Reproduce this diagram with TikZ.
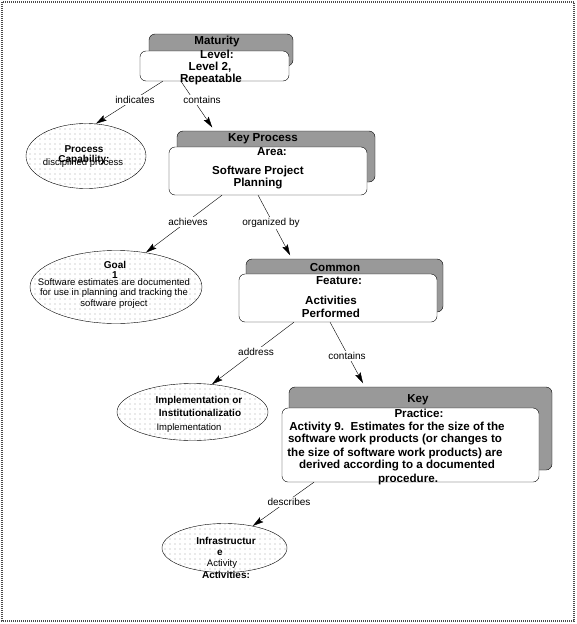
\documentclass[tikz,border=0pt]{standalone}
\usepackage{fontspec}
\setmainfont{Liberation Sans}
\usepackage{tikz}
\usetikzlibrary{arrows.meta,calc,patterns.meta,shapes.geometric}

\tikzset{
  shadowbox/.style={draw, rounded corners=6pt, fill=black!40, inner sep=0pt},
  frontbox/.style={draw, rounded corners=6pt, fill=white, inner sep=0pt},
  concept/.style={draw, ellipse, inner sep=0pt, pattern={Dots[distance=5pt,radius=0.45pt]}},
  boxtxt/.style={font=\fontsize{11.6}{13}\selectfont\bfseries, inner sep=0pt},
  elltitle/.style={font=\fontsize{10}{12}\selectfont\bfseries, inner sep=0pt},
  elltxt/.style={font=\fontsize{9.5}{11}\selectfont, inner sep=0pt},
  linklbl/.style={font=\fontsize{10}{12}\selectfont, fill=white, inner sep=1pt},
  link/.style={-{Stealth[length=11pt,width=6pt,inset=2pt]}},
  frame/.style={line width=2pt, black!70, dash pattern=on 1pt off 1pt}
}

\begin{document}
\begin{tikzpicture}[x=1pt, y=-1pt]
        \useasboundingbox (0,0) rectangle (576,624);
        \draw[frame] (2,2) rectangle (574,621);
        %Draw boxes
        \node[shadowbox, minimum width=144pt, minimum height=32pt] (mlevelsh) at (221,50) {};
        \node[frontbox, minimum width=149pt, minimum height=30pt] (mlevel) at (214.5,66) {};
        \node[shadowbox, minimum width=198pt, minimum height=51pt] (kpash) at (276,156.5) {};
        \node[frontbox, minimum width=198pt, minimum height=48pt] (kpa) at (268,171) {};
        \node[shadowbox, minimum width=197pt, minimum height=53pt] (cfsh) at (344.5,285.5) {};
        \node[frontbox, minimum width=198pt, minimum height=48pt] (cf) at (338,298) {};
        \node[shadowbox, minimum width=263pt, minimum height=83pt] (kprsh) at (420.5,428.5) {};
        \node[frontbox, minimum width=257pt, minimum height=74pt] (kpr) at (410.5,445) {};
        %Draw ellipses
        \node[concept, minimum width=120pt, minimum height=65pt] (pcap) at (86,156) {};
        \node[concept, minimum width=172pt, minimum height=73pt] (goal) at (116,287) {};
        \node[concept, minimum width=151pt, minimum height=57pt] (impl) at (192.5,412) {};
        \node[concept, minimum width=125pt, minimum height=49pt] (infra) at (224.5,548) {};
        %Draw lines
        \draw[link] ($(mlevel.south west)!.154!(mlevel.south east)$) -- (pcap.73);
        \draw[link, shorten >=4pt] ($(mlevel.south west)!.275!(mlevel.south east)$) -- ($(kpash.north west)!.19!(kpash.north east)$);
        \draw[link] ($(kpa.south west)!.268!(kpa.south east)$) -- (goal.49);
        \draw[link, shorten >=4pt] ($(kpa.south west)!.45!(kpa.south east)$) -- ($(cfsh.north west)!.234!(cfsh.north east)$);
        \draw[link] ($(cf.south west)!.278!(cf.south east)$) -- (impl.55);
        \draw[link, shorten >=4pt] ($(cf.south west)!.46!(cf.south east)$) -- ($(kprsh.north west)!.289!(kprsh.north east)$);
        \draw[link] ($(kpr.south west)!.125!(kpr.south east)$) -- (infra.38);
        %Draw link labels
        \node[linklbl] (lindicates) at (135,100) {indicates};
        \node[linklbl] (lcontains) at (202,100) {contains};
        \node[linklbl] (lachieves) at (188,222) {achieves};
        \node[linklbl] (lorganized) at (271,223) {organized by};
        \node[linklbl] (laddress) at (256,352) {address};
        \node[linklbl] (lcontainsb) at (347,356) {contains};
        \node[linklbl] (ldescribes) at (289,502) {describes};
        %Draw box texts
        \node[boxtxt] (mlevelt1) at (217,41) {Maturity};
        \node[boxtxt] (mlevelt2) at (217,54) {Level:};
        \node[boxtxt] (mlevelt3) at (210,67) {Level 2,};
        \node[boxtxt] (mlevelt4) at (211,79) {Repeatable};
        \node[boxtxt] (kpat1) at (263,139) {Key Process};
        \node[boxtxt] (kpat2) at (272,152) {Area:};
        \node[boxtxt] (kpat3) at (258,171) {Software Project};
        \node[boxtxt] (kpat4) at (258,184) {Planning};
        \node[boxtxt] (cft1) at (335,268) {Common};
        \node[boxtxt] (cft2) at (339,281) {Feature:};
        \node[boxtxt] (cft3) at (331,300) {Activities};
        \node[boxtxt] (cft4) at (331,313) {Performed};
        \node[boxtxt] (kprt1) at (418,400) {Key};
        \node[boxtxt] (kprt2) at (419,413) {Practice:};
        \node[boxtxt] (kprt3) at (397,427) {Activity 9.\ \ Estimates for the size of the};
        \node[boxtxt] (kprt4) at (395,440) {software work products (or changes to};
        \node[boxtxt] (kprt5) at (395,453) {the size of software work products) are};
        \node[boxtxt] (kprt6) at (397,466) {derived according to a documented};
        \node[boxtxt] (kprt7) at (408,479) {procedure.};
        %Draw ellipse texts
        \node[elltitle] (pcapt1) at (84,149) {Process};
        \node[elltitle] (pcapt2) at (84,160) {Capability:};
        \node[elltxt] (pcapt3) at (83,163) {disciplined process};
        \node[elltitle] (goalt1) at (115,265) {Goal};
        \node[elltitle] (goalt2) at (115,275) {1};
        \node[elltxt] (goalt3) at (114,282) {Software estimates are documented};
        \node[elltxt] (goalt4) at (114,293) {for use in planning and tracking the};
        \node[elltxt] (goalt5) at (114,304) {software project};
        \node[elltitle] (implt1) at (199,401) {Implementation or};
        \node[elltitle] (implt2) at (200,413) {Institutionalizatio};
        \node[elltxt] (implt3) at (189,428) {Implementation};
        \node[elltitle] (infrat1) at (226,541) {Infrastructur};
        \node[elltitle] (infrat2) at (220,553) {e};
        \node[elltxt] (infrat3) at (222,564) {Activity};
        \node[elltitle] (infrat4) at (226,575) {Activities:};
\end{tikzpicture}
\end{document}
